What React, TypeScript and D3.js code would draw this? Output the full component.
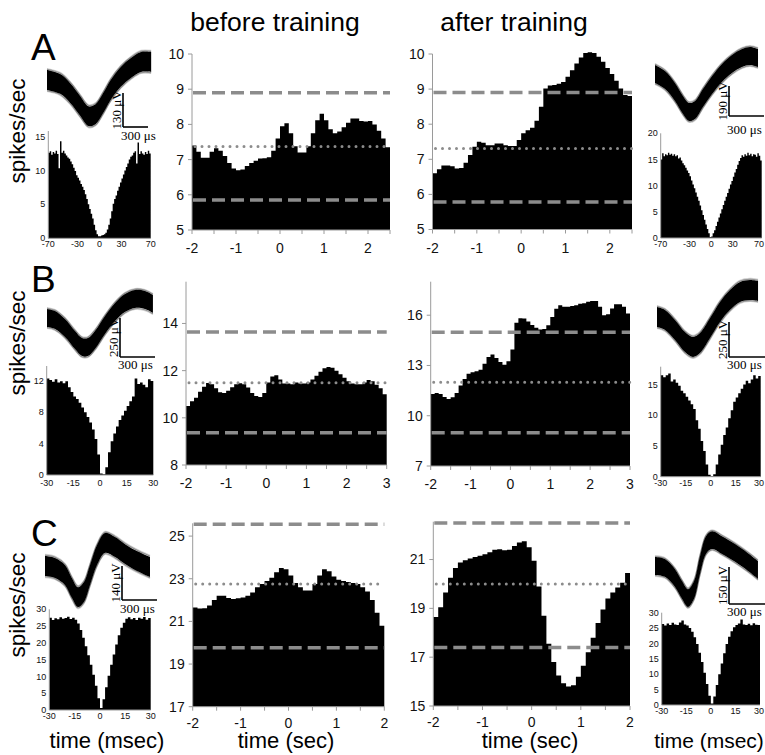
import React from "react";
import * as d3 from "d3";

const SANS = '"Liberation Sans", Arial, Helvetica, sans-serif';
const SERIF = '"Liberation Serif", "Times New Roman", Times, serif';
const AXIS = "#9a9a9a";
const REF = "#8c8c8c";

// ---------------- PSTH data (0.1 s bins, starting at -2 s) ----------------
const beforeA = [7.4,7.22,7.05,7.05,7.22,7.32,7.25,7.1,6.9,6.75,6.7,6.72,6.82,6.9,6.97,7.03,7.04,7.07,7.25,7.6,7.95,8.03,7.75,7.38,7.2,7.2,7.38,7.75,8.12,8.3,8.12,7.86,7.75,7.8,7.92,8.05,8.17,8.17,8.1,8.08,8.1,8.0,7.82,7.6,7.35];
const afterA = [6.6,6.72,6.82,6.82,6.8,6.74,6.75,6.9,7.12,7.36,7.5,7.47,7.4,7.4,7.45,7.45,7.4,7.38,7.38,7.55,7.74,7.83,7.9,8.1,8.5,9.02,9.1,9.12,9.15,9.2,9.35,9.54,9.73,9.9,10.03,10.05,10.03,9.92,9.78,9.6,9.43,9.24,9.02,8.83,8.8];
const beforeB = [10.5,10.7,10.85,11.1,11.32,11.48,11.42,11.25,11.08,11.05,11.15,11.3,11.42,11.47,11.42,11.28,11.05,10.92,10.88,11.05,11.5,11.75,11.8,11.62,11.45,11.45,11.42,11.5,11.45,11.45,11.5,11.62,11.78,11.95,12.1,12.15,12.12,12.0,11.85,11.7,11.55,11.45,11.42,11.42,11.5,11.6,11.55,11.4,11.25,11.0];
const afterB = [11.3,11.35,11.3,11.12,11.0,11.1,11.35,11.8,12.2,12.5,12.6,12.65,12.75,13.1,13.5,13.65,13.45,13.2,13.05,13.25,13.95,15.55,15.82,15.8,15.62,15.42,15.25,15.15,15.18,15.4,15.9,16.38,16.6,16.5,16.5,16.55,16.6,16.68,16.72,16.8,16.85,16.85,16.5,16.0,16.05,16.4,16.65,16.65,16.5,16.1];
const beforeC = [21.65,21.6,21.62,21.75,22.0,22.2,22.2,22.1,22.05,22.08,22.12,22.2,22.35,22.6,22.75,22.9,23.05,23.3,23.5,23.45,23.15,22.8,22.6,22.45,22.45,22.75,23.15,23.45,23.35,23.1,22.95,22.9,22.85,22.8,22.75,22.6,22.4,22.0,21.4,20.8];
const afterC = [18.65,19.05,19.65,20.25,20.65,20.88,20.97,21.04,21.1,21.16,21.22,21.3,21.4,21.42,21.38,21.4,21.55,21.7,21.75,21.5,20.95,19.9,18.7,17.55,16.8,16.25,15.93,15.8,15.85,16.2,16.65,17.2,17.8,18.4,18.95,19.4,19.65,19.85,20.05,20.45];

// reference lines: [upper dashed, mean dotted, lower dashed]
const refsBeforeA = [8.9, 7.37, 5.85];
const refsAfterA = [8.9, 7.31, 5.78];
const refsBeforeB = [13.64, 11.49, 9.37];
const refsAfterB = [14.99, 12.0, 8.99];
const refsBeforeC = [25.55, 22.75, 19.77];
const refsAfterC = [22.5, 20.0, 17.4];

// tick labels
const xTicksA = [-2, -1, 0, 1, 2];
const xTicksB = [-2, -1, 0, 1, 2, 3];
const xTicksC = [-2, -1, 0, 1, 2];
const yTicksBeforeA = [5, 6, 7, 8, 9, 10];
const yTicksAfterA = [5, 6, 7, 8, 9, 10];
const yTicksBeforeB = [8, 10, 12, 14];
const yTicksAfterB = [7, 10, 13, 16];
const yTicksBeforeC = [17, 19, 21, 23, 25];
const yTicksAfterC = [15, 17, 19, 21];

// ---------------- autocorrelograms ----------------
// A: 2 ms bins from -70 ms; B, C: 1.5 ms bins from -30 ms
const acgAleft = [12.6,12.8,12.3,12.7,12.5,12.9,12.4,10.3,14.3,12.6,12.9,12.5,12.2,11.9,11.7,11.3,10.9,10.4,9.9,9.3,8.9,8.5,8.0,7.6,7.1,6.5,5.8,5.0,4.3,3.6,2.9,2.0,1.2,0.6,0.3,0.3,0.4,0.5,0.6,0.8,1.3,2.0,2.9,4.0,5.1,5.8,6.3,7.0,7.6,8.2,8.8,9.4,10.0,10.5,11.0,11.6,12.0,12.2,12.6,12.8,11.0,14.1,12.4,12.8,12.5,12.3,12.7,12.4,12.9,12.5];
const acgAright = [15.0,16.2,15.6,16.0,15.8,16.3,15.9,16.1,15.7,16.0,15.6,15.8,15.2,15.4,14.8,14.3,13.9,13.4,12.9,12.4,11.8,11.0,10.2,9.5,8.7,7.9,7.1,6.2,5.3,4.4,3.5,2.6,1.7,0.9,0.2,0.3,0.9,1.5,2.3,3.1,3.9,4.7,5.5,6.3,7.1,7.9,8.6,9.4,10.2,10.9,11.7,12.5,13.2,14.0,14.7,15.3,15.8,15.5,16.0,15.7,16.3,15.8,16.1,15.6,16.0,15.9,15.5,16.2,15.7,14.8];
const acgBleft = [12.3,12.1,11.9,12.2,11.8,11.95,11.7,11.95,11.2,10.6,10.0,9.7,9.2,8.6,8.0,7.4,6.7,5.8,4.6,2.6,0.2,0.1,1.0,2.9,4.3,5.3,6.2,7.0,7.6,8.2,8.8,9.4,10.0,12.3,11.6,11.8,11.5,11.2,12.2,12.0];
const acgBright = [16.5,16.2,16.5,16.8,15.5,15.8,15.3,14.8,14.0,13.6,13.0,12.4,11.8,11.0,9.2,7.8,5.8,4.2,2.0,0.3,0.1,0.4,2.0,3.6,5.2,6.8,8.0,9.5,10.8,12.2,12.9,13.6,14.3,15.0,15.6,15.2,15.8,16.5,16.0,16.4];
const acgCleft = [27.5,26.8,27.3,27.0,27.6,27.2,27.4,27.8,27.1,27.5,26.9,25.8,23.8,21.5,19.0,16.3,13.5,10.5,7.2,3.5,0.6,3.2,6.8,10.2,13.5,16.5,19.5,22.3,24.5,26.0,27.2,27.6,27.0,27.4,26.8,27.5,27.2,27.7,26.9,27.4];
const acgCright = [26.3,25.8,26.5,26.0,26.7,26.2,26.0,26.8,27.5,26.2,25.8,25.0,23.8,22.0,19.8,17.0,14.0,10.5,6.8,3.0,0.5,2.8,6.5,10.0,13.5,16.8,19.8,22.2,24.0,25.3,26.0,26.5,27.8,26.2,26.0,26.4,25.9,26.6,26.1,26.0];

const acgTicks70 = [-70, -30, 0, 30, 70];
const acgTicks30 = [-30, -15, 0, 15, 30];
const acgYAleft = [0, 5, 10, 15];
const acgYAright = [0, 5, 10, 15, 20];
const acgYBleft = [0, 4, 8, 12];
const acgYBright = [0, 5, 10, 15];
const acgYC = [0, 5, 10, 15, 20, 25, 30];

// ---------------- waveforms (time in µs, voltage in µV) ----------------
const waveALt = [0,158,279,400,497,582,667,764,885,1007,1128,1250];
const waveALv = [0,-15,-50,-100,-138,-131,-92,-38,12,46,69,69];
const waveARt = [0,86,171,240,291,343,411,489,574,660,746,814,883];
const waveARv = [0,-38,-114,-196,-240,-228,-152,-70,6,63,101,114,101];
const waveBLt = [0,69,154,240,300,351,411,497,583,668,754,840,908];
const waveBLv = [0,-13,-64,-141,-186,-186,-141,-45,38,96,122,115,90];
const waveBRt = [0,67,150,233,300,358,442,525,608,692,775,842];
const waveBRv = [0,-21,-93,-179,-214,-186,-79,36,121,179,193,186];
const waveCLt = [0,86,171,231,283,334,386,446,514,600,686,771,900];
const waveCLv = [0,-8,-37,-91,-128,-107,-37,45,95,78,49,25,-4];
const waveCRt = [0,83,167,225,275,325,375,425,475,558,667,775,858];
const waveCRv = [0,-8,-49,-97,-130,-97,4,85,105,85,53,16,-16];

const scaleUV = [130, 190, 250, 250, 140, 150];

type PsthProps = {
  data: number[]; start: number; bin: number;
  x0: number; x1: number; yb: number; yt: number;
  yDom: [number, number]; xTicks: number[]; yTicks: number[]; refs: number[];
  labelDy: number;
};

function Psth(p: PsthProps) {
  const xEnd = p.start + p.data.length * p.bin;
  const xs = d3.scaleLinear().domain([p.start, xEnd]).range([p.x0, p.x1]);
  const ys = d3.scaleLinear().domain(p.yDom).range([p.yb, p.yt]);
  const pts: [number, number][] = p.data.map((v, i) => [p.start + i * p.bin, v]);
  pts.push([xEnd, p.data[p.data.length - 1]]);
  const area = d3.area<[number, number]>()
    .x((d) => xs(d[0]))
    .y0(ys(p.yDom[0]))
    .y1((d) => ys(d[1]))
    .curve(d3.curveStepAfter);
  const minor = d3.range(p.start, xEnd + 1e-9, 0.5);
  return (
    <g>
      <path d={area(pts) || ""} fill="#000" />
      <line x1={p.x0} x2={p.x0} y1={p.yt} y2={p.yb} stroke={AXIS} strokeWidth={1} />
      <line x1={p.x0} x2={p.x1} y1={p.yb} y2={p.yb} stroke={AXIS} strokeWidth={1} />
      {p.yTicks.map((t) => (
        <g key={"y" + t}>
          <line x1={p.x0 - 4} x2={p.x0} y1={ys(t)} y2={ys(t)} stroke={AXIS} />
          <text x={p.x0 - 8} y={ys(t)} dy="0.35em" textAnchor="end" fontFamily={SANS} fontSize={14} fill="#111">{t}</text>
        </g>
      ))}
      {minor.map((t) => (
        <line key={"m" + t} x1={xs(t)} x2={xs(t)} y1={p.yb} y2={p.yb + 4} stroke={AXIS} />
      ))}
      {p.xTicks.map((t) => (
        <text key={"x" + t} x={xs(t)} y={p.yb + p.labelDy} textAnchor="middle" fontFamily={SANS} fontSize={14} fill="#111">{t}</text>
      ))}
      <line x1={p.x0 + 1} x2={p.x1} y1={ys(p.refs[0])} y2={ys(p.refs[0])} stroke={REF} strokeWidth={3.5} strokeDasharray="13 6" />
      <line x1={p.x0 + 3} x2={p.x1} y1={ys(p.refs[1])} y2={ys(p.refs[1])} stroke={REF} strokeWidth={3} strokeDasharray="0 7" strokeLinecap="round" />
      <line x1={p.x0 + 1} x2={p.x1} y1={ys(p.refs[2])} y2={ys(p.refs[2])} stroke={REF} strokeWidth={3.5} strokeDasharray="13 6" />
    </g>
  );
}

type AcgProps = {
  data: number[]; start: number; bin: number;
  x0: number; x1: number; yb: number; yt: number; yMax: number;
  xTicks: number[]; yTicks: number[]; xLabelDy: number;
};

function Acg(p: AcgProps) {
  const xEnd = p.start + p.data.length * p.bin;
  const xs = d3.scaleLinear().domain([p.start, xEnd]).range([p.x0, p.x1]);
  const ys = d3.scaleLinear().domain([0, p.yMax]).range([p.yb, p.yt]);
  const pts: [number, number][] = p.data.map((v, i) => [p.start + i * p.bin, v]);
  pts.push([xEnd, p.data[p.data.length - 1]]);
  const area = d3.area<[number, number]>()
    .x((d) => xs(d[0]))
    .y0(ys(0))
    .y1((d) => ys(d[1]))
    .curve(d3.curveStepAfter);
  return (
    <g>
      <path d={area(pts) || ""} fill="#000" />
      <line x1={p.x0} x2={p.x0} y1={p.yt} y2={p.yb} stroke={AXIS} />
      <line x1={p.x0} x2={p.x1} y1={p.yb} y2={p.yb} stroke={AXIS} />
      {p.yTicks.map((t) => (
        <text key={"y" + t} x={p.x0 - 3} y={ys(t)} dy="0.35em" textAnchor="end" fontFamily={SANS} fontSize={9} fill="#111">{t}</text>
      ))}
      {p.xTicks.map((t) => {
        const x = xs(t);
        const overflow = x + 7 > 764;
        return (
          <text key={"x" + t} x={overflow ? 764 : x} y={p.yb + p.xLabelDy} textAnchor={overflow ? "end" : "middle"} fontFamily={SANS} fontSize={9} fill="#111">{t}</text>
        );
      })}
    </g>
  );
}

type WaveProps = {
  t: number[]; v: number[]; hw: number;
  x0: number; y0: number; kx: number; ky: number;
  barX: number; barY: number; uv: number; sDy: number;
};

function Wave(p: WaveProps) {
  const idx = p.t.map((_, i) => i);
  const X = (i: number) => p.x0 + p.t[i] * p.kx;
  const Y = (i: number, off: number) => p.y0 - (p.v[i] + off) * p.ky;
  const band = d3.area<number>()
    .x((i) => X(i))
    .y0((i) => Y(i, -p.hw))
    .y1((i) => Y(i, p.hw))
    .curve(d3.curveCatmullRom);
  const edge = (off: number) =>
    d3.line<number>().x((i) => X(i)).y((i) => Y(i, off)).curve(d3.curveCatmullRom)(idx) || "";
  const fuzz: [number, number][] = [[1.16, 0.18], [1.07, 0.4], [-1.07, 0.4], [-1.16, 0.18]];
  const vLen = p.uv * p.ky;
  const hLen = 300 * p.kx;
  return (
    <g>
      {fuzz.map(([f, o]) => (
        <path key={f} d={edge(f * p.hw)} fill="none" stroke="#000" strokeOpacity={o} strokeWidth={1.2} />
      ))}
      <path d={band(idx) || ""} fill="#000" />
      <line x1={p.barX} x2={p.barX} y1={p.barY - vLen} y2={p.barY} stroke="#000" strokeWidth={1.6} />
      <line x1={p.barX} x2={p.barX + hLen} y1={p.barY} y2={p.barY} stroke="#000" strokeWidth={1.6} />
      <text
        transform={`translate(${p.barX - 2},${p.barY - vLen / 2}) rotate(-90)`}
        textAnchor="middle" fontFamily={SERIF} fontSize={13} fill="#000"
      >{`${p.uv} μV`}</text>
      <text x={p.barX - 2} y={p.barY + p.sDy} fontFamily={SERIF} fontSize={13} fill="#000">300 μs</text>
    </g>
  );
}

export default function App() {
  return (
    <svg width={765} height={755} style={{ position: "absolute", left: 0, top: 0, display: "block", background: "#fff" }}>
      {/* titles */}
      <text x={275} y={31} textAnchor="middle" fontFamily={SANS} fontSize={26.5}>before training</text>
      <text x={514} y={31} textAnchor="middle" fontFamily={SANS} fontSize={26.5}>after training</text>

      {/* panel letters */}
      <text x={31} y={60} fontFamily={SANS} fontSize={37}>A</text>
      <text x={31} y={292} fontFamily={SANS} fontSize={37}>B</text>
      <text x={31} y={546} fontFamily={SANS} fontSize={37}>C</text>

      {/* y labels */}
      {[131, 343, 605].map((cy) => (
        <text key={cy} transform={`translate(25,${cy}) rotate(-90)`} textAnchor="middle" fontFamily={SANS} fontSize={22.5}>spikes/sec</text>
      ))}

      {/* row A */}
      <Wave t={waveALt} v={waveALv} hw={38} x0={47} y0={80} kx={25 / 300} ky={34 / 130} barX={123} barY={127} uv={scaleUV[0]} sDy={13} />
      <Acg data={acgAleft} start={-70} bin={2} x0={48.3} x1={150.7} yb={238.3} yt={131} yMax={15.8} xTicks={acgTicks70} yTicks={acgYAleft} xLabelDy={9} />
      <Psth data={beforeA} start={-2} bin={0.1} x0={192} x1={390} yb={230} yt={54} yDom={[5, 10]} xTicks={xTicksA} yTicks={yTicksBeforeA} refs={refsBeforeA} labelDy={23} />
      <Psth data={afterA} start={-2} bin={0.1} x0={432.5} x1={632} yb={229.5} yt={54} yDom={[5, 10]} xTicks={xTicksA} yTicks={yTicksAfterA} refs={refsAfterA} labelDy={23} />
      <Wave t={waveARt} v={waveARv} hw={57} x0={655} y0={74} kx={35 / 300} ky={30 / 190} barX={729} barY={116} uv={scaleUV[1]} sDy={18} />
      <Acg data={acgAright} start={-70} bin={2} x0={660.7} x1={761.7} yb={238} yt={133.3} yMax={20} xTicks={acgTicks70} yTicks={acgYAright} xLabelDy={9} />

      {/* row B */}
      <Wave t={waveBLt} v={waveBLv} hw={58} x0={47} y0={318} kx={35 / 300} ky={39 / 250} barX={120} barY={357} uv={scaleUV[2]} sDy={12} />
      <Acg data={acgBleft} start={-30} bin={1.5} x0={46.7} x1={153.3} yb={475} yt={366} yMax={13.9} xTicks={acgTicks30} yTicks={acgYBleft} xLabelDy={11} />
      <Psth data={beforeB} start={-2} bin={0.1} x0={186} x1={386.7} yb={465} yt={281.7} yDom={[8, 15.77]} xTicks={xTicksB} yTicks={yTicksBeforeB} refs={refsBeforeB} labelDy={23} />
      <Psth data={afterB} start={-2} bin={0.1} x0={430.7} x1={630} yb={466} yt={281.7} yDom={[7, 18]} xTicks={xTicksB} yTicks={yTicksAfterB} refs={refsAfterB} labelDy={23} />
      <Wave t={waveBRt} v={waveBRv} hw={71} x0={657} y0={317} kx={36 / 300} ky={35 / 250} barX={729} barY={357} uv={scaleUV[3]} sDy={12} />
      <Acg data={acgBright} start={-30} bin={1.5} x0={660.7} x1={760.7} yb={476.7} yt={366.7} yMax={17.9} xTicks={acgTicks30} yTicks={acgYBright} xLabelDy={9} />

      {/* row C */}
      <Wave t={waveCLt} v={waveCLv} hw={41} x0={45} y0={566} kx={35 / 300} ky={34 / 140} barX={122} barY={600} uv={scaleUV[4]} sDy={13} />
      <Acg data={acgCleft} start={-30} bin={1.5} x0={49.3} x1={150.7} yb={710} yt={609.3} yMax={30} xTicks={acgTicks30} yTicks={acgYC} xLabelDy={9} />
      <Psth data={beforeC} start={-2} bin={0.1} x0={192.7} x1={384.3} yb={706.7} yt={523.3} yDom={[17, 25.6]} xTicks={xTicksC} yTicks={yTicksBeforeC} refs={refsBeforeC} labelDy={21} />
      <Psth data={afterC} start={-2} bin={0.1} x0={433.3} x1={630} yb={706} yt={521.7} yDom={[15, 22.55]} xTicks={xTicksC} yTicks={yTicksAfterC} refs={refsAfterC} labelDy={21} />
      <Wave t={waveCRt} v={waveCRv} hw={36} x0={655} y0={566} kx={36 / 300} ky={37 / 150} barX={729} barY={604} uv={scaleUV[5]} sDy={12} />
      <Acg data={acgCright} start={-30} bin={1.5} x0={661.7} x1={760} yb={705} yt={612.7} yMax={30} xTicks={acgTicks30} yTicks={acgYC} xLabelDy={9} />

      {/* x-axis titles */}
      <text x={107} y={748} textAnchor="middle" fontFamily={SANS} fontSize={22}>time (msec)</text>
      <text x={286} y={748} textAnchor="middle" fontFamily={SANS} fontSize={22}>time (sec)</text>
      <text x={530} y={748} textAnchor="middle" fontFamily={SANS} fontSize={22}>time (sec)</text>
      <text x={709} y={748} textAnchor="middle" fontFamily={SANS} fontSize={21}>time (msec)</text>
    </svg>
  );
}
